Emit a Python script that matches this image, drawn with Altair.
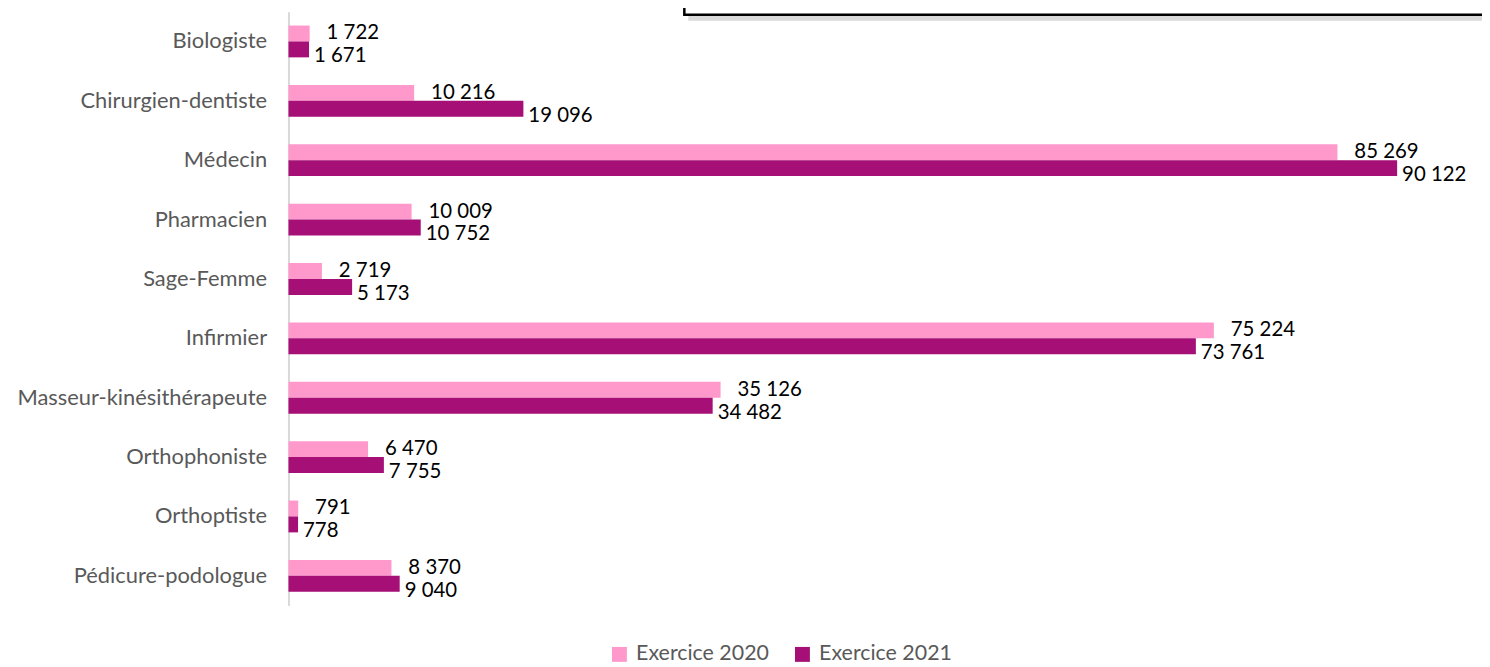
import altair as alt
import pandas as pd

categories = ["Biologiste", "Chirurgien-dentiste", "Médecin", "Pharmacien", "Sage-Femme",
              "Infirmier", "Masseur-kinésithérapeute", "Orthophoniste", "Orthoptiste",
              "Pédicure-podologue"]
series_names = ["Exercice 2020", "Exercice 2021"]
values_2020 = [1722, 10216, 85269, 10009, 2719, 75224, 35126, 6470, 791, 8370]
values_2021 = [1671, 19096, 90122, 10752, 5173, 73761, 34482, 7755, 778, 9040]
colors = ["#FF99CC", "#A50F76"]


def fr(v):
    return f"{v:,}".replace(",", " ")


rows = []
for c, a, b in zip(categories, values_2020, values_2021):
    rows.append({"cat": c, "serie": series_names[0], "val": a, "lab": fr(a)})
    rows.append({"cat": c, "serie": series_names[1], "val": b, "lab": fr(b)})
df = pd.DataFrame(rows)

FONT = "Lato"

y_enc = alt.Y("cat:N", sort=categories, title=None,
              scale=alt.Scale(paddingInner=0.464, paddingOuter=0.232),
              axis=alt.Axis(labelFont=FONT, labelFontSize=22, labelColor="#595959",
                            labelPadding=22, ticks=False, domainColor="#D9D9D9",
                            domainWidth=2, labelLimit=400))
x_enc = alt.X("val:Q", title=None, scale=alt.Scale(domain=[0, 95000], nice=False),
              axis=None)
yoff = alt.YOffset("serie:N", sort=series_names, scale=alt.Scale(paddingInner=0, paddingOuter=0))

base = alt.Chart(df)

bars = base.mark_bar(size=16).encode(
    y=y_enc, x=x_enc, yOffset=yoff,
    color=alt.Color("serie:N", sort=series_names,
                    scale=alt.Scale(domain=series_names, range=colors),
                    legend=alt.Legend(title=None, orient="none", direction="horizontal",
                                      legendX=322, legendY=635, columns=2,
                                      symbolType="square", symbolSize=225,
                                      symbolStrokeWidth=0, labelFont=FONT,
                                      labelFontSize=21.5, labelColor="#595959",
                                      labelOffset=6, columnPadding=22, padding=0)),
)

t1 = base.transform_filter(alt.datum.serie == series_names[0]).mark_text(
    align="left", baseline="middle", dx=17, dy=0, font=FONT, fontSize=20.5, color="#000000"
).encode(y=y_enc, x=x_enc, yOffset=yoff, text="lab:N")

t2 = base.transform_filter(alt.datum.serie == series_names[1]).mark_text(
    align="left", baseline="middle", dx=5, dy=7, font=FONT, fontSize=20.5, color="#000000"
).encode(y=y_enc, x=x_enc, yOffset=yoff, text="lab:N")

box_shadow = alt.Chart(alt.Data(values=[{}])).mark_rect(
    fill="#000000", opacity=0.15).encode(
    x=alt.value(402), x2=alt.value(1300), y=alt.value(-20), y2=alt.value(9))
box = alt.Chart(alt.Data(values=[{}])).mark_rect(
    fill="#FFFFFF", stroke="#000000", strokeWidth=2.5).encode(
    x=alt.value(398), x2=alt.value(1300), y=alt.value(-30), y2=alt.value(3))

chart = alt.layer(bars, t1, t2, box_shadow, box).properties(
    width=1175, height=597,
    autosize=alt.AutoSizeParams(type="none"),
    padding={"left": 282, "right": 25, "top": 2, "bottom": 58},
).configure_view(stroke=None)

chart.save("out.html", embed_options={"renderer": "svg", "actions": False})
